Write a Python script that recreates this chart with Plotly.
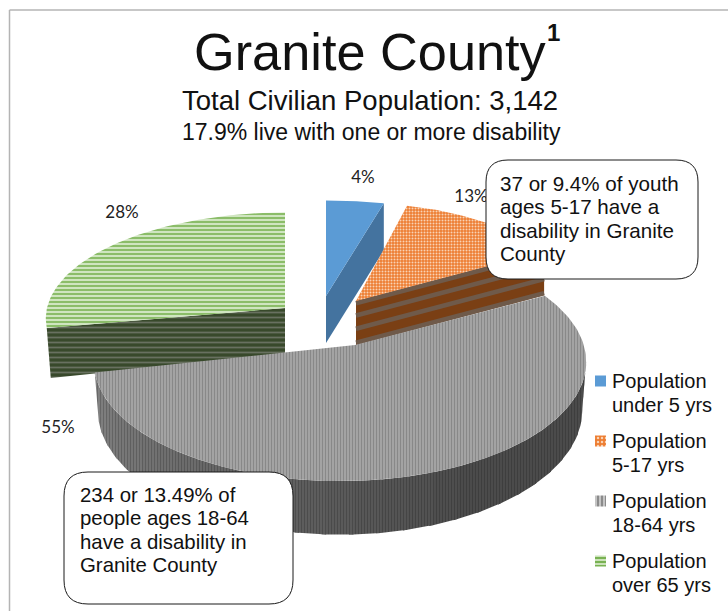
import numpy as np
import plotly.graph_objects as go

# ---- data ----
categories = ["Population under 5 yrs", "Population 5-17 yrs", "Population 18-64 yrs", "Population over 65 yrs"]
shares = [4, 13, 55, 28]
legend_lines = [["Population", "under 5 yrs"], ["Population", "5-17 yrs"], ["Population", "18-64 yrs"], ["Population", "over 65 yrs"]]
title = "Granite County"
subtitle = "Total Civilian Population: 3,142"
subtitle2 = "17.9% live with one or more disability"
callout_youth = ["37 or 9.4% of youth", "ages 5-17 have a", "disability in Granite", "County"]
callout_adult = ["234 or 13.49% of", "people ages 18-64", "have a disability in", "Granite County"]

# ---- slice angles (clockwise from the top) derived from the shares ----
cum = np.cumsum([0] + shares) / sum(shares) * 360.0
P = 0.1
FONT = "Liberation Sans"

def arc(cx, cy, rx, ry, a0, a1, n=70):
    t = np.radians(np.linspace(a0, a1, n))
    k = 1 + P * np.cos(t)
    return cx + rx * np.sin(t) / k, cy - ry * np.cos(t) / k

fig = go.Figure()

def poly(xs, ys, fg, bg, shape, size=4, sol=0.4, name=""):
    fig.add_trace(go.Scatter(
        x=np.append(xs, xs[0]), y=np.append(ys, ys[0]), mode="lines", fill="toself",
        line=dict(width=0, color=bg), fillcolor=bg, name=name, hoverinfo="skip",
        fillpattern=dict(shape=shape, fgcolor=fg, bgcolor=bg, size=size, solidity=sol, fillmode="replace"),
        showlegend=False))

def stripes(p0, p1, depth, fracs, color, width):
    for f in fracs:
        fig.add_trace(go.Scatter(x=[p0[0], p1[0]], y=[p0[1] + depth * f, p1[1] + depth * f], mode="lines",
                                 line=dict(color=color, width=width), hoverinfo="skip", showlegend=False))

# green slice
gx, gy = 285, 308
ax_, ay_ = arc(gx, gy, 238, 105, cum[3], cum[4])
lx, ly = ax_[0], ay_[0]
poly(np.array([gx, lx + 4, lx, gx]), np.array([gy + 46, ly + 50, ly, gy]), "#687060", "#38492b", "-", 5, 0.35, categories[3] + " side")
poly(np.append(ax_, gx), np.append(ay_, gy), "#70ad47", "#cfe5c0", "-", 4, 0.36, categories[3])

# blue slice
bx, by = 326, 296
ax_, ay_ = arc(bx, by, 255, 105, cum[0], cum[1], 20)
poly(np.array([bx, ax_[-1], ax_[-1], bx]), np.array([by, ay_[-1], ay_[-1] + 47, by + 47]), "#44739f", "#44739f", "", name=categories[0] + " side")
poly(np.append(ax_, bx), np.append(ay_, by), "#5b9bd5", "#5b9bd5", "", name=categories[0])

# orange slice
ox, oy = 356, 301
ax_, ay_ = arc(ox, oy, 225, 108, cum[1], cum[2], 40)
poly(np.array([ox, ax_[-1], ax_[-1], ox]), np.array([oy, ay_[-1], ay_[-1] + 44, oy + 44]), "#7a3f14", "#7a3f14", "", name=categories[1] + " side")
stripes((ox, oy), (ax_[-1], ay_[-1]), 44, [0.05, 0.33, 0.63, 0.95], "#6f5a4a", 4.5)
poly(np.append(ax_, ox), np.append(ay_, oy), "#f9d3b5", "#ed7d31", ".", 3, 0.35, categories[1])

# gray slice: curved side, shaded in small steps that lighten towards the left, then the top
gcx, gcy, grx, gry = 340, 350, 245, 118
edges = np.linspace(95, cum[3], 29)
for a0, a1 in zip(edges[:-1], edges[1:]):
    s = max(0.0, ((a0 + a1) / 2 - 150) / (cum[3] - 150))
    fg_v, bg_v = int(62 + 44 * s), int(84 + 62 * s)
    a1e = min(a1 + 1, cum[3])
    tx, ty = arc(gcx, gcy, grx, gry, a0, a1e, 8)
    dx, dy = arc(gcx, gcy + 48, 241, 123, a0, a1e, 8)
    poly(np.concatenate([tx, dx[::-1]]), np.concatenate([ty, dy[::-1]]),
         f"rgb({fg_v},{fg_v},{fg_v})", f"rgb({bg_v},{bg_v},{bg_v})", "|", 3, 0.6, categories[2] + " side")
ax_, ay_ = arc(gcx, gcy, grx, gry, cum[2], cum[3], 160)
poly(np.append(ax_, 355), np.append(ay_, 345), "#888888", "#c4c4c4", "|", 3, 0.7, categories[2])

# data labels (under the callouts, as in the reference)
fig.add_trace(go.Scatter(
    x=[363, 471, 58, 122], y=[179, 198, 429, 214], mode="text",
    text=[f"{v}%" for v in shares], textfont=dict(family="Lato", size=17, color="#222222"),
    textposition="middle center", hoverinfo="skip", showlegend=False))

# legend swatches
leg_y = [381, 441, 501, 561]
swatches = [("", "#5b9bd5", "#5b9bd5", 4, 0.4), (".", "#f9d3b5", "#ed7d31", 4, 0.3),
            ("|", "#8b8b8b", "#d2d2d2", 4, 0.6), ("-", "#70ad47", "#cbe2ba", 4, 0.45)]
for yy, (shape, fg, bg, sz, sol), name in zip(leg_y, swatches, categories):
    poly(np.array([595, 606, 606, 595]), np.array([yy - 5.5, yy - 5.5, yy + 5.5, yy + 5.5]), fg, bg, shape, sz, sol, name)

def rounded(x0, y0, x1, y1, r):
    return (f"M{x0+r},{y0} L{x1-r},{y0} Q{x1},{y0} {x1},{y0+r} L{x1},{y1-r} Q{x1},{y1} {x1-r},{y1} "
            f"L{x0+r},{y1} Q{x0},{y1} {x0},{y1-r} L{x0},{y0+r} Q{x0},{y0} {x0+r},{y0} Z")

shapes = [
    dict(type="line", x0=9.5, x1=9.5, y0=10, y1=611, line=dict(color="#b4b4b4", width=1.5), layer="above"),
    dict(type="line", x0=9.5, x1=728, y0=10, y1=10, line=dict(color="#b4b4b4", width=1.5), layer="above"),
    dict(type="path", path=rounded(486, 160, 698, 279, 22), fillcolor="white", line=dict(color="#1a1a1a", width=1), layer="above"),
    dict(type="path", path=rounded(64, 472, 293, 604, 24), fillcolor="white", line=dict(color="#1a1a1a", width=1), layer="above"),
]

annotations = []
def note(x, y, text, size, anchor="left", bold=False):
    annotations.append(dict(x=x, y=y, xref="x", yref="y", text=f"<b>{text}</b>" if bold else text, showarrow=False,
                            xanchor=anchor, yanchor="middle", align=anchor, borderpad=0,
                            font=dict(family=FONT, size=size, color="#111111")))

note(370.5, 52, title, 52.3, "center")
note(553, 32, "1", 24, "center", True)
note(370, 100, subtitle, 27.5, "center")
note(371, 132, subtitle2, 23, "center")
for i, line in enumerate(callout_youth):
    note(498.5, 183 + i * 23.5, line, 20.6)
for i, line in enumerate(callout_adult):
    note(78.5, 495 + i * 23.3, line, 20.4)
for yy, lines in zip(leg_y, legend_lines):
    note(611, yy, lines[0], 20)
    note(611, yy + 23.5, lines[1], 20)

fig.update_layout(
    width=728, height=611, margin=dict(l=0, r=0, t=0, b=0), paper_bgcolor="white", plot_bgcolor="white",
    showlegend=False, shapes=shapes, annotations=annotations,
    xaxis=dict(range=[0, 728], visible=False, fixedrange=True),
    yaxis=dict(range=[611, 0], visible=False, fixedrange=True),
)
fig.write_html("out.html", config={"displayModeBar": False},
               post_script="document.body.style.margin='0';document.body.style.overflow='hidden';")
